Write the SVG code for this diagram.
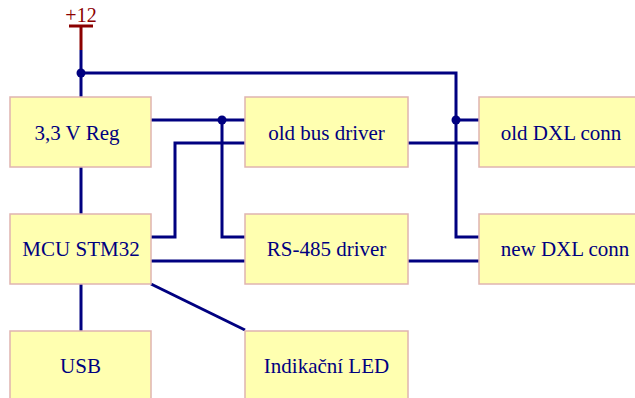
<svg xmlns="http://www.w3.org/2000/svg" width="635" height="398" viewBox="0 0 635 398">
<style>
.box{fill:#ffffb0;stroke:#e0b4b0;stroke-width:1.5}
.t{font-family:"Liberation Serif",serif;font-size:21px;fill:#000080;text-anchor:middle}
.w{fill:none;stroke:#000080;stroke-width:3}
.j{fill:#000080}
</style>
<rect width="635" height="398" fill="#fff"/>
<g id="connectors">
<path class="w" d="M81 50V97M81 167V214M81 284V331"/>
<path class="w" d="M81 73H456V237H479"/>
<path class="w" d="M151 120H245M222 120V237H245"/>
<path class="w" d="M151 237H175V143H245"/>
<path class="w" d="M408 143H479M456 120H479"/>
<path class="w" d="M151 261H245M408 261H479"/>
<path class="w" d="M151 284L245 330"/>
<circle class="j" cx="81" cy="73" r="4.5"/>
<circle class="j" cx="222" cy="120" r="4.5"/>
<circle class="j" cx="456" cy="120" r="4.5"/>
</g>
<g id="power">
<path d="M69 26H93M81 26V50" fill="none" stroke="#8b0000" stroke-width="3"/>
<text x="81" y="22" font-family="Liberation Serif,serif" font-size="20" fill="#8b0000" text-anchor="middle">+12</text>
</g>
<g id="reg"><rect class="box" x="10" y="97" width="141" height="70"/><text class="t" x="77" y="140">3,3 V Reg</text></g>
<g id="oldbus"><rect class="box" x="245" y="97" width="163" height="70"/><text class="t" x="326.5" y="140">old bus driver</text></g>
<g id="olddxl"><rect class="box" x="479" y="97" width="170" height="70"/><text class="t" x="561" y="140">old DXL conn</text></g>
<g id="mcu"><rect class="box" x="10" y="214" width="141" height="70"/><text class="t" x="81" y="256">MCU STM32</text></g>
<g id="rs485"><rect class="box" x="245" y="214" width="163" height="70"/><text class="t" x="326.5" y="256">RS-485 driver</text></g>
<g id="newdxl"><rect class="box" x="479" y="214" width="170" height="70"/><text class="t" x="565" y="256">new DXL conn</text></g>
<g id="usb"><rect class="box" x="10" y="331" width="141" height="70"/><text class="t" x="80.5" y="373">USB</text></g>
<g id="led"><rect class="box" x="245" y="331" width="163" height="70"/><text class="t" x="326.5" y="373">Indikační LED</text></g>
</svg>
